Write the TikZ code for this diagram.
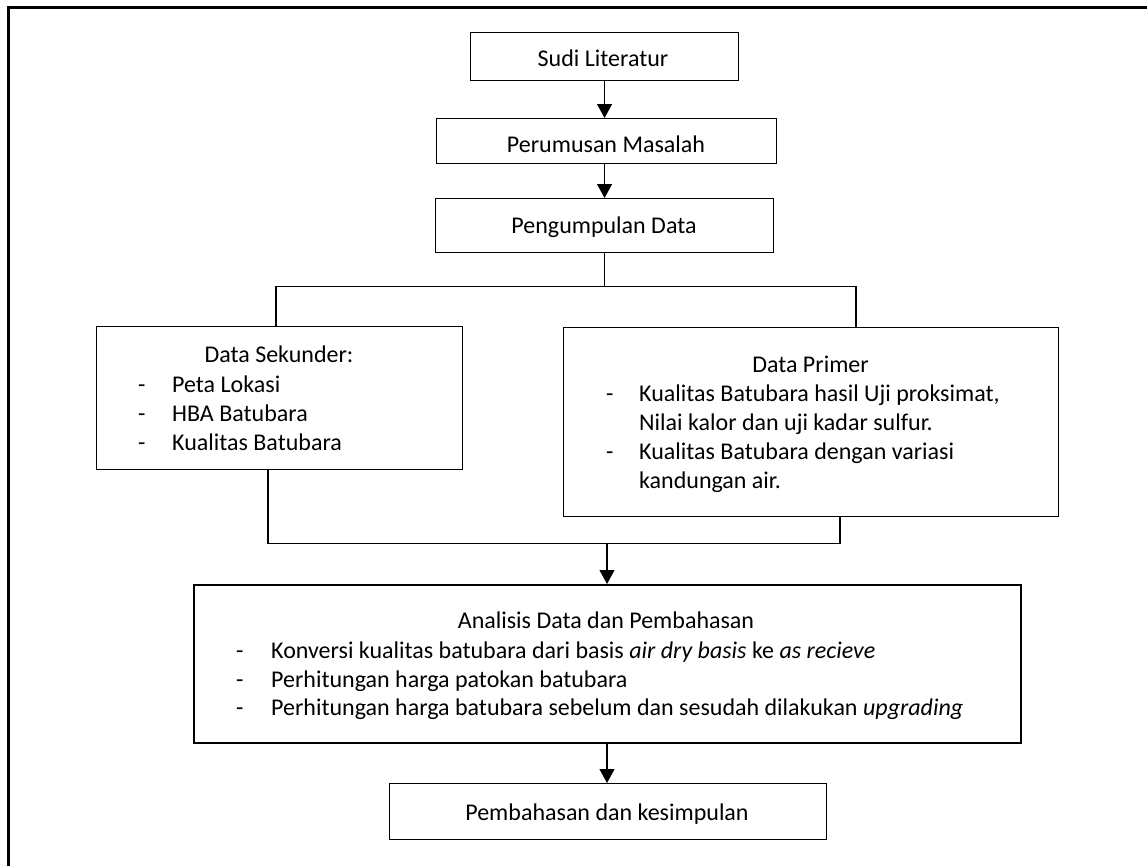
\documentclass[tikz,border=0pt]{standalone}
\usepackage{fontspec}
\setmainfont{Carlito}
\usetikzlibrary{arrows.meta}
\begin{document}
\begin{tikzpicture}[x=1pt,y=-1pt,
  box/.style={draw, line width=1.1pt, inner sep=0pt, anchor=north west},
  txt/.style={inner sep=0pt, font=\fontsize{24}{29}\selectfont},
  ctr/.style={txt, anchor=base},
  lft/.style={txt, anchor=base west},
  conn/.style={line width=1.1pt},
  arr/.style={conn, -{Triangle[width=15pt,length=14pt]}}]
\useasboundingbox (0,0) rectangle (1147,865);
\begin{scope}
\clip (0,0) rectangle (1147,865);
\draw[line width=2.6pt] (8.3,7.3) rectangle (1200,900);
\end{scope}

% boxes
\node[box, minimum width=268pt, minimum height=48pt] (sudi) at (470,32) {};
\node[box, minimum width=340pt, minimum height=45pt] (rumus) at (436,118) {};
\node[box, minimum width=338pt, minimum height=54pt] (kumpul) at (435,198) {};
\node[box, minimum width=366pt, minimum height=143pt] (sek) at (96,326) {};
\node[box, minimum width=495pt, minimum height=189pt] (prim) at (563,327) {};
\node[box, line width=2pt, minimum width=827pt, minimum height=158pt] (anal) at (193,584) {};
\node[box, minimum width=437pt, minimum height=56pt] (bahas) at (389,783) {};

% texts
\node[ctr] (tsudi) at (603,66) {Sudi Literatur};
\node[ctr] (trumus) at (606,152) {Perumusan Masalah};
\node[ctr] (tkumpul) at (604,233) {Pengumpulan Data};

\node[ctr] (tsek) at (279,362) {Data Sekunder:};
\node[lft] (sd1) at (138,392) {-};
\node[lft] (sd2) at (138,421) {-};
\node[lft] (sd3) at (138,450) {-};
\node[lft] (s1) at (172,392) {Peta Lokasi};
\node[lft] (s2) at (172,421) {HBA Batubara};
\node[lft] (s3) at (172,450) {Kualitas Batubara};

\node[ctr] (tprim) at (810.5,372) {Data Primer};
\node[lft] (pd1) at (606,401) {-};
\node[lft] (pd2) at (606,459) {-};
\node[lft] (p1) at (639,401) {Kualitas Batubara hasil Uji proksimat,};
\node[lft] (p1b) at (639,430) {Nilai kalor dan uji kadar sulfur.};
\node[lft] (p2) at (639,459) {Kualitas Batubara dengan variasi};
\node[lft] (p2b) at (639,488) {kandungan air.};

\node[ctr] (tanal) at (606,628) {Analisis Data dan Pembahasan};
\node[lft] (ad1) at (236,658) {-};
\node[lft] (ad2) at (236,687) {-};
\node[lft] (ad3) at (236,715) {-};
\node[lft] (a1) at (271,658) {Konversi kualitas batubara dari basis \textit{air dry basis} ke \textit{as recieve}};
\node[lft] (a2) at (271,687) {Perhitungan harga patokan batubara};
\node[lft] (a3) at (271,715) {Perhitungan harga batubara sebelum dan sesudah dilakukan \textit{upgrading}};

\node[ctr] (tbahas) at (607,820) {Pembahasan dan kesimpulan};

% connector points
\coordinate (sl) at (276,286.5);
\coordinate (sr) at (856,286.5);
\coordinate (jl) at (268,543.5);
\coordinate (jr) at (840,543.5);
\coordinate (jm) at (607,543.5);

% connectors
\draw[arr] (sudi.south) -- (sudi.south |- rumus.north);
\draw[arr] (sudi.south |- rumus.south) -- (sudi.south |- kumpul.north);
\draw[conn] (kumpul.south) -- (kumpul.south |- sl);
\draw[conn] (sek.north -| sl) -- (sl) -- (sr) -- (prim.north -| sr);
\draw[conn] (sek.south -| jl) -- (jl) -- (jr) -- (prim.south -| jr);
\draw[arr] (jm) -- (anal.north -| jm);
\draw[arr] (anal.south -| jm) -- (bahas.north -| jm);
\end{tikzpicture}
\end{document}
